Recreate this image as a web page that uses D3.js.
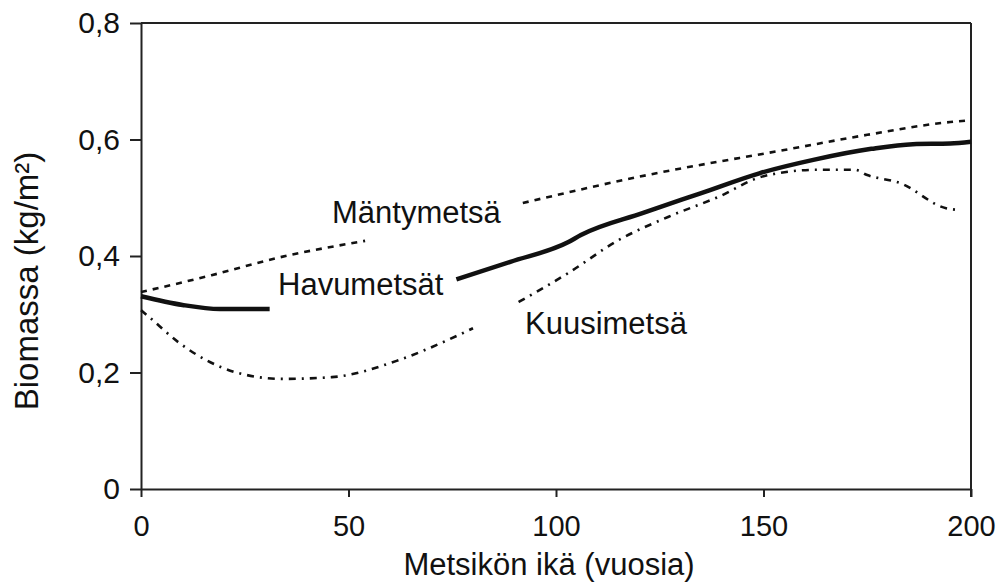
<!DOCTYPE html>
<html>
<head>
<meta charset="utf-8">
<script src="https://cdn.jsdelivr.net/npm/d3@7"></script>
<style>
  body { margin: 0; background: #fff; }
  svg text { font-family: "Liberation Sans", Arial, sans-serif; fill: #111; }
  .axis path, .axis line { stroke: #222; stroke-width: 2; }
</style>
</head>
<body>
<div id="chart"></div>
<script>
// values, null = gap where the label sits
var havuAges   = [0, 10, 19, 31, 50, 76, 89, 103, 106, 121, 135, 149, 162, 176, 186, 195, 200];
var havuValues = [0.331, 0.316, 0.309, 0.309, null, 0.360, 0.390, 0.424, 0.436, 0.474, 0.508, 0.542, 0.565, 0.584, 0.592, 0.593, 0.596];

var mantyAges   = [0, 17, 33, 54, 70, 92, 122, 155, 175, 195, 200];
var mantyValues = [0.338, 0.367, 0.397, 0.426, null, 0.491, 0.539, 0.582, 0.608, 0.630, 0.633];

var kuusiAges   = [0, 2, 9, 23, 34, 46, 62, 74, 80, 85, 91, 103, 115, 127, 139, 150, 163, 172, 175, 183, 194, 197];
var kuusiValues = [0.307, 0.295, 0.252, 0.200, 0.189, 0.192, 0.221, 0.256, 0.276, null, 0.321, 0.371, 0.427, 0.467, 0.501, 0.537, 0.548, 0.548, 0.539, 0.525, 0.482, 0.479];

var xTicks = [0, 50, 100, 150, 200];
var yTicks = [0, 0.2, 0.4, 0.6, 0.8];

var width = 1001, height = 585;

var svg = d3.select("#chart")
  .append("svg")
    .attr("width", width)
    .attr("height", height);

var x = d3.scaleLinear().domain([0, 200]).range([141, 971]);
var y = d3.scaleLinear().domain([0, 0.8]).range([489, 23]);

// axes
var xAxis = svg.append("g")
  .attr("class", "axis")
  .attr("transform", "translate(0," + y(0) + ")")
  .call(d3.axisBottom(x).tickValues(xTicks).tickSize(8).tickSizeOuter(0).tickPadding(18));
xAxis.selectAll("text").style("font-size", "29px");

var yAxis = svg.append("g")
  .attr("class", "axis")
  .attr("transform", "translate(" + x(0) + ",0)")
  .call(d3.axisLeft(y).tickValues(yTicks).tickSize(11).tickSizeOuter(0).tickPadding(10)
    .tickFormat(function(d) { return d === 0 ? "0" : d3.format(".1f")(d).replace(".", ","); }));
yAxis.selectAll("text").style("font-size", "30px");

// frame top and right (right one runs below the axis like a tick)
svg.append("line")
  .attr("x1", x(0)).attr("x2", x(200))
  .attr("y1", y(0.8)).attr("y2", y(0.8))
  .attr("stroke", "#222").attr("stroke-width", 2);
svg.append("line")
  .attr("x1", x(200)).attr("x2", x(200))
  .attr("y1", y(0.8)).attr("y2", y(0) + 8)
  .attr("stroke", "#222").attr("stroke-width", 2);

// lines
function toPoints(ages, values) {
  return ages.map(function(a, i) { return {age: a, value: values[i]}; });
}

var line = d3.line()
  .defined(function(d) { return d.value != null; })
  .curve(d3.curveMonotoneX)
  .x(function(d) { return x(d.age); })
  .y(function(d) { return y(d.value); });

var series = [
  {pts: toPoints(mantyAges, mantyValues), width: 2.6, dash: "6,6"},
  {pts: toPoints(kuusiAges, kuusiValues), width: 2.6, dash: "7,6,2,6"},
  {pts: toPoints(havuAges, havuValues), width: 4.5, dash: null}
];

series.forEach(function(s) {
  svg.append("path")
    .datum(s.pts)
    .attr("fill", "none")
    .attr("stroke", "#111")
    .attr("stroke-width", s.width)
    .attr("stroke-dasharray", s.dash)
    .attr("d", line);
});

// labels on the curves
var labels = [
  {text: "Mäntymetsä", x: 332, y: 223},
  {text: "Havumetsät", x: 278, y: 295},
  {text: "Kuusimetsä", x: 525, y: 334}
];
svg.selectAll(".lbl")
  .data(labels)
  .enter().append("text")
    .attr("class", "lbl")
    .attr("x", function(d) { return d.x; })
    .attr("y", function(d) { return d.y; })
    .style("font-size", "31px")
    .text(function(d) { return d.text; });

// axis titles
svg.append("text")
  .attr("x", 549)
  .attr("y", 575)
  .attr("text-anchor", "middle")
  .style("font-size", "31px")
  .text("Metsikön ikä (vuosia)");

svg.append("text")
  .attr("transform", "translate(38,281) rotate(-90)")
  .attr("text-anchor", "middle")
  .style("font-size", "33px")
  .text("Biomassa (kg/m²)");
</script>
</body>
</html>
